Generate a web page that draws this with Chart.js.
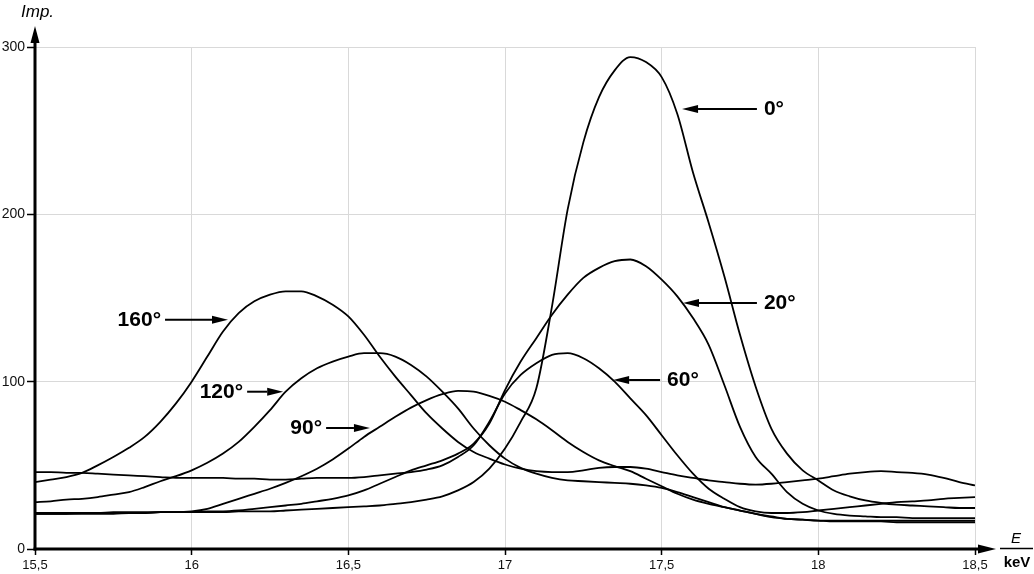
<!DOCTYPE html>
<html>
<head>
<meta charset="utf-8">
<script src="https://cdn.jsdelivr.net/npm/chart.js@4.4.1/dist/chart.umd.min.js"></script>
<style>
  html, body { margin: 0; padding: 0; background: #fff; }
  canvas { display: block; }
</style>
</head>
<body>
<canvas id="spectra-chart" width="1034" height="574"></canvas>
<script>
// Energy grid (keV), 0.05 steps
const energy = [
    15.50, 15.55, 15.60, 15.65, 15.70, 15.75, 15.80, 15.85, 15.90, 15.95,
    16.00, 16.05, 16.10, 16.15, 16.20, 16.25, 16.30, 16.35, 16.40, 16.45,
    16.50, 16.55, 16.60, 16.65, 16.70, 16.75, 16.80, 16.85, 16.90, 16.95,
    17.00, 17.05, 17.10, 17.15, 17.20, 17.25, 17.30, 17.35, 17.40, 17.45,
    17.50, 17.55, 17.60, 17.65, 17.70, 17.75, 17.80, 17.85, 17.90, 17.95,
    18.00, 18.05, 18.10, 18.15, 18.20, 18.25, 18.30, 18.35, 18.40, 18.45,
    18.50
];

// Impulses per scattering angle
const imp0 = [
    21, 21, 21, 21.5, 21.5, 21.5, 21.5, 21.5, 22, 22,
    22, 22, 22, 22.5, 22.5, 22.5, 23, 23.5, 24, 24.5,
    25, 25.5, 26, 27, 28, 29.5, 31.5, 35, 40, 48,
    60, 76, 96, 145, 203, 243, 270, 286, 294, 291,
    282, 260, 225, 195, 163, 128, 97, 72, 57, 47,
    41, 35, 31.5, 29, 27.5, 26.5, 26, 25.5, 25, 24.5,
    24.5
];
const imp20 = [
    21.5, 21.5, 21.5, 21.5, 21.5, 22, 22, 22, 22, 22,
    22, 22.5, 22.5, 23, 24, 25, 26, 27, 28.5, 30,
    32, 35, 39, 43, 47, 50, 53, 57, 63, 75,
    95, 112, 126, 140, 152, 162, 168, 172, 173, 169,
    161, 151, 138, 122, 98, 73, 55, 45, 34, 27,
    23, 21, 20, 19.5, 19, 19, 18.5, 18.5, 18.5, 18.5,
    18.5
];
const imp60 = [
    46, 46, 45.5, 45.5, 45, 44.5, 44, 43.5, 43, 42.5,
    42.5, 42.5, 42.5, 42, 42, 41.5, 41.5, 42, 42.5, 42.5,
    42.5, 43, 44, 45, 46, 47.5, 50, 55, 62, 76,
    93, 104, 111, 116, 117, 114, 108, 100, 90, 80,
    68, 56, 45, 36, 30, 25, 22.5, 21.5, 21.5, 22,
    23, 24, 25, 26, 27, 28, 28.5, 29, 30, 30.5,
    31
];
const imp90 = [
    21, 21, 21, 21, 21, 21, 21.5, 21.5, 22, 22,
    22.5, 24, 27, 30, 33, 36, 39.5, 43.5, 48, 53.5,
    60, 67, 73, 79, 84.5, 89, 92.5, 94.5, 94, 91.5,
    88, 83, 77.5, 71, 64, 58, 53, 49.5, 46.5, 42,
    37.5, 33, 29.5, 27, 25, 23, 21, 19, 18, 17.5,
    17, 16.5, 16.5, 16.5, 16.5, 16, 16, 16, 16, 16,
    16
];
const imp120 = [
    28, 28.5, 29.5, 30, 31, 32.5, 34, 37, 40.5, 43.5,
    47, 51.5, 57, 64, 73, 83, 94, 102, 108, 112,
    115, 117, 117, 115, 110, 103, 94, 84, 72, 62,
    54, 48.5, 45, 42.5, 41, 40.5, 40, 39.5, 39, 38,
    36.5, 34, 31, 28, 25, 23, 21, 19.5, 18, 17.5,
    17, 17, 17, 17, 17, 17, 17, 17, 17, 17,
    17
];
const imp160 = [
    40, 41.5, 43, 45.5, 50, 55, 60.5, 67, 76, 87,
    100, 115, 130, 141, 148, 152, 154, 154, 151, 146,
    139, 128, 115, 103, 92, 81, 72, 64, 58, 54,
    50.5, 48, 46.5, 46, 46, 47, 48.5, 49, 49, 48,
    46, 44, 42.5, 41, 40, 39, 38.5, 39, 40, 41,
    42, 43.5, 45, 46, 46.5, 46, 45.5, 44.5, 42.5, 40,
    38
];

const yTicks = [0, 100, 200, 300];
const xTicks = [15.5, 16, 16.5, 17, 17.5, 18, 18.5];

const seriesList = [
    { label: '0°', values: imp0 },
    { label: '20°', values: imp20 },
    { label: '60°', values: imp60 },
    { label: '90°', values: imp90 },
    { label: '120°', values: imp120 },
    { label: '160°', values: imp160 }
];

// Arrow labels (data coordinates: tip/tail energy, impulse level)
const arrowLabels = [
    { text: '0°',   tip: 17.565, tail: 17.804, at: 263 },
    { text: '20°',  tip: 17.568, tail: 17.804, at: 147 },
    { text: '60°',  tip: 17.345, tail: 17.495, at: 101 },
    { text: '160°', tip: 16.116, tail: 15.915, at: 137 },
    { text: '120°', tip: 16.292, tail: 16.177, at: 94 },
    { text: '90°',  tip: 16.569, tail: 16.429, at: 72.3 }
];

const FONT = "'Liberation Sans', Arial, sans-serif";

function drawArrow(ctx, x1, y1, x2, y2, len, half) {
    // shaft from (x1,y1), filled head at (x2,y2)
    const ang = Math.atan2(y2 - y1, x2 - x1);
    const bx = x2 - Math.cos(ang) * len;
    const by = y2 - Math.sin(ang) * len;
    ctx.beginPath();
    ctx.moveTo(x1, y1);
    ctx.lineTo(bx, by);
    ctx.stroke();
    ctx.beginPath();
    ctx.moveTo(x2, y2);
    ctx.lineTo(bx - Math.sin(ang) * half, by + Math.cos(ang) * half);
    ctx.lineTo(bx + Math.sin(ang) * half, by - Math.cos(ang) * half);
    ctx.closePath();
    ctx.fill();
}

// Axes with arrows, axis titles and curve labels
const decorPlugin = {
    id: 'decor',
    afterDraw(chart) {
        const ctx = chart.ctx;
        const { left, right, bottom } = chart.chartArea;
        const xs = chart.scales.x;
        const ys = chart.scales.y;
        ctx.save();
        ctx.strokeStyle = '#000';
        ctx.fillStyle = '#000';

        // axes
        ctx.lineWidth = 3;
        drawArrow(ctx, left, bottom + 1.5, left, 26, 17, 4.5);
        drawArrow(ctx, left - 1.5, bottom, right + 21, bottom, 18, 4.5);

        // axis titles
        ctx.textBaseline = 'middle';
        ctx.textAlign = 'left';
        ctx.font = 'italic 17px ' + FONT;
        ctx.fillText('Imp.', 21, 12);

        ctx.textAlign = 'center';
        ctx.font = 'italic 15px ' + FONT;
        ctx.fillText('E', right + 41, bottom - 10);
        ctx.lineWidth = 1.5;
        ctx.beginPath();
        ctx.moveTo(right + 25, bottom - 0.5);
        ctx.lineTo(right + 58, bottom - 0.5);
        ctx.stroke();
        ctx.font = 'bold 15px ' + FONT;
        ctx.fillText('keV', right + 42, bottom + 14);

        // curve labels
        ctx.lineWidth = 2;
        ctx.font = 'bold 21px ' + FONT;
        arrowLabels.forEach(a => {
            const xt = xs.getPixelForValue(a.tip);
            const xa = xs.getPixelForValue(a.tail);
            const y = ys.getPixelForValue(a.at);
            drawArrow(ctx, xa, y, xt, y, 16, 4);
            if (a.tip < a.tail) {
                ctx.textAlign = 'left';
                ctx.fillText(a.text, xa + 7, y);
            } else {
                ctx.textAlign = 'right';
                ctx.fillText(a.text, xa - 4, y);
            }
        });
        ctx.restore();
    }
};

const ctx = document.getElementById('spectra-chart');
new Chart(ctx, {
    type: 'line',
    data: {
        datasets: seriesList.map(s => ({
            label: s.label,
            data: energy.map((e, i) => ({ x: e, y: s.values[i] })),
            borderColor: '#000',
            borderWidth: 1.8,
            pointRadius: 0,
            fill: false,
            cubicInterpolationMode: 'monotone'
        }))
    },
    options: {
        responsive: false,
        animation: false,
        layout: { padding: { top: 47, right: 59, left: 0, bottom: 0 } },
        plugins: {
            legend: { display: false },
            tooltip: { enabled: false }
        },
        scales: {
            x: {
                type: 'linear',
                min: 15.5,
                max: 18.5,
                afterBuildTicks: scale => { scale.ticks = xTicks.map(v => ({ value: v })); },
                afterFit: scale => { scale.height = 25; },
                border: { display: false },
                grid: {
                    color: '#d9d9d9',
                    tickColor: '#000',
                    tickLength: 6,
                    tickWidth: 1.5
                },
                ticks: {
                    color: '#111',
                    padding: 3,
                    maxRotation: 0,
                    autoSkip: false,
                    font: { size: 13, family: FONT },
                    callback: v => String(v).replace('.', ',')
                }
            },
            y: {
                min: 0,
                max: 300,
                afterBuildTicks: scale => { scale.ticks = yTicks.map(v => ({ value: v })); },
                afterFit: scale => { scale.width = 35; },
                border: { display: false },
                grid: {
                    color: '#d9d9d9',
                    tickColor: '#000',
                    tickLength: 8,
                    tickWidth: 1.5
                },
                ticks: {
                    color: '#111',
                    padding: 2,
                    font: { size: 14, family: FONT }
                }
            }
        }
    },
    plugins: [decorPlugin]
});
</script>
</body>
</html>
